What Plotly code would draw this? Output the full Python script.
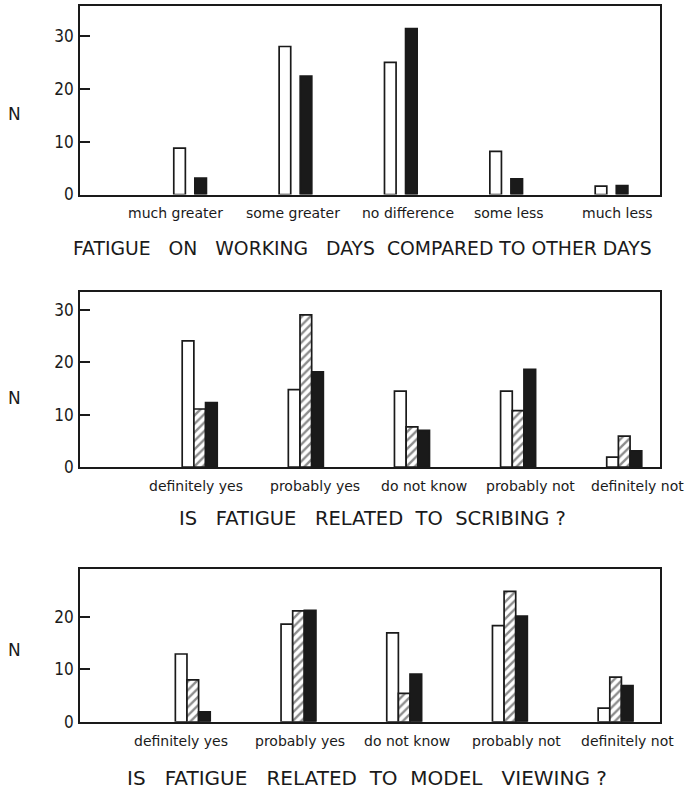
import plotly.graph_objects as go

# ---- data ----
working_cats = ["much greater", "some greater", "no difference", "some less", "much less"]
working_open = [8.8, 28.1, 25.1, 8.2, 1.6]
working_solid = [3.1, 22.5, 31.5, 3.0, 1.7]

answer_cats = ["definitely yes", "probably yes", "do not know", "probably not", "definitely not"]
scribing_open = [24.1, 14.8, 14.5, 14.5, 1.9]
scribing_hatched = [11.1, 29.1, 7.7, 10.8, 5.9]
scribing_solid = [12.3, 18.2, 7.0, 18.7, 3.1]

viewing_open = [12.9, 18.6, 16.9, 18.3, 2.6]
viewing_hatched = [8.0, 21.1, 5.4, 24.8, 8.5]
viewing_solid = [1.9, 21.2, 9.1, 20.1, 6.9]

titles = [
    "FATIGUE\u00a0\u00a0 ON\u00a0\u00a0 WORKING\u00a0\u00a0 DAYS\u00a0 COMPARED\u00a0TO\u00a0OTHER\u00a0DAYS",
    "IS\u00a0\u00a0 FATIGUE\u00a0\u00a0 RELATED\u00a0 TO\u00a0 SCRIBING\u00a0?",
    "IS\u00a0\u00a0 FATIGUE\u00a0\u00a0 RELATED\u00a0 TO\u00a0 MODEL\u00a0\u00a0 VIEWING\u00a0?",
]

INK = "#1a1a1a"
LABEL_FONT = "DejaVu Sans, sans-serif"
DIGIT_FONT = "DejaVu Sans Condensed, DejaVu Sans, sans-serif"
TITLE_FONT = "DejaVu Sans, sans-serif"
W, H = 685, 800
FRAME_L, FRAME_R = 80, 660

pos = [1, 2, 3, 4, 5]
BW = 0.11

fig = go.Figure()


def add_bar(vals, offset, style, axis):
    xa, ya = axis
    if style == "open":
        marker = dict(color="white", line=dict(color=INK, width=1.7))
    elif style == "hatched":
        marker = dict(color="white", line=dict(color=INK, width=1.7),
                      pattern=dict(shape="/", fgcolor=INK, bgcolor="white",
                                   size=6, solidity=0.4))
    else:
        marker = dict(color=INK, line=dict(color=INK, width=1.7))
    fig.add_trace(go.Bar(x=pos, y=vals, width=BW, offset=offset - BW / 2,
                         marker=marker, xaxis=xa, yaxis=ya, showlegend=False))


# panel 1: working days vs other days
add_bar(working_open, -0.1, "open", ("x", "y"))
add_bar(working_solid, 0.1, "solid", ("x", "y"))
# panel 2: scribing
add_bar(scribing_open, -BW, "open", ("x2", "y2"))
add_bar(scribing_hatched, 0.0, "hatched", ("x2", "y2"))
add_bar(scribing_solid, BW, "solid", ("x2", "y2"))
# panel 3: model viewing
add_bar(viewing_open, -BW, "open", ("x3", "y3"))
add_bar(viewing_hatched, 0.0, "hatched", ("x3", "y3"))
add_bar(viewing_solid, BW, "solid", ("x3", "y3"))


def px_x(p):
    return p / W


def px_y(p):
    return 1 - p / H


panels = [
    # (top px, axis px, x range, y max, y ticks, category labels, label nudges px)
    (6, 197, [-0.045, 5.46], 35.8, [0, 10, 20, 30], working_cats, [-15, -2, 7, 3, 6]),
    (296, 473, [-0.128, 5.337], 33.4, [0, 10, 20, 30], answer_cats, [-4, 9, 12, 12, 13]),
    (576, 731, [-0.067, 5.42], 29.1, [0, 10, 20], answer_cats, [-12, 2, 3, 7, 12]),
]

layout = dict(
    width=W, height=H,
    margin=dict(l=0, r=0, t=0, b=0),
    paper_bgcolor="white", plot_bgcolor="white",
    barmode="overlay",
    annotations=[],
)

for i, (top, bot, xr, ymax, yt, cats, nudges) in enumerate(panels):
    sfx = "" if i == 0 else str(i + 1)
    layout["xaxis" + sfx] = dict(
        domain=[px_x(FRAME_L), px_x(FRAME_R)], range=xr, anchor="y" + sfx,
        showticklabels=False, ticks="", showgrid=False, zeroline=False,
        showline=True, mirror=True, linecolor=INK, linewidth=1.8,
        fixedrange=True,
    )
    layout["yaxis" + sfx] = dict(
        domain=[px_y(bot), px_y(top)], range=[0, ymax], anchor="x" + sfx,
        tickvals=yt, ticks="inside", ticklen=10, tickwidth=1.8, tickcolor=INK,
        showgrid=False, zeroline=False, showline=True, mirror=True,
        linecolor=INK, linewidth=1.8,
        tickfont=dict(family=DIGIT_FONT, size=17, color=INK),
        ticklabelstandoff=1, fixedrange=True,
    )
    # category labels under each bar group
    for p, label, dx in zip(pos, cats, nudges):
        layout["annotations"].append(dict(
            text=label, x=p, xref="x" + sfx, y=px_y(bot + 19), yref="paper",
            xshift=dx, showarrow=False, xanchor="center", yanchor="middle",
            font=dict(family=LABEL_FONT, size=14, color=INK)))

# "N" axis labels
for ypix in [115, 403, 658]:
    layout["annotations"].append(dict(
        text="N", x=px_x(14), y=px_y(ypix), xref="paper", yref="paper",
        showarrow=False, xanchor="center", yanchor="middle",
        font=dict(family=TITLE_FONT, size=17, color=INK)))

# panel captions
for text, xc, ypix, fs in zip(titles, [362, 372, 367], [252, 525, 788], [18.8, 19.5, 20]):
    layout["annotations"].append(dict(
        text=text, x=px_x(xc), y=px_y(ypix), xref="paper", yref="paper",
        showarrow=False, xanchor="center", yanchor="middle",
        font=dict(family=TITLE_FONT, size=fs, color=INK)))

fig.update_layout(**layout)
fig.write_html("out.html")
